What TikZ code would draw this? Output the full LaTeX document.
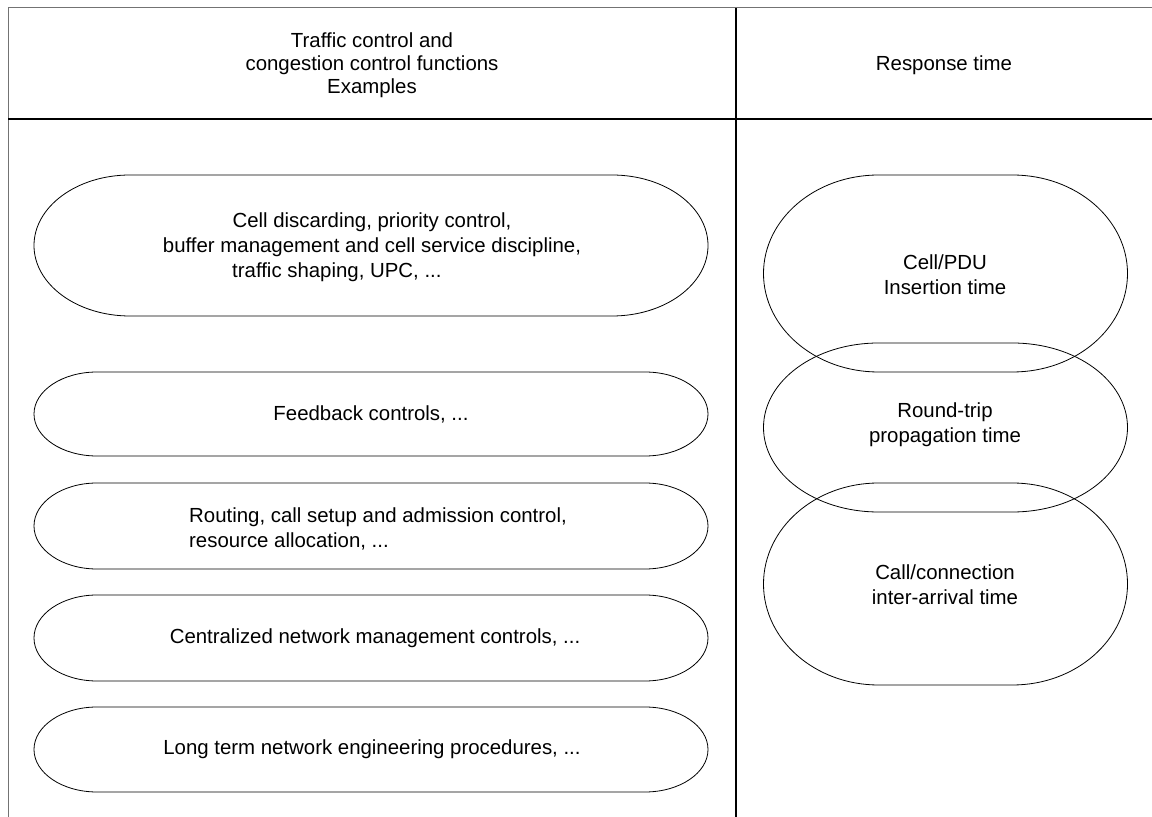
\documentclass[tikz,border=0pt]{standalone}
\usepackage{fontspec}
\setmainfont{Liberation Sans}
\usepackage{tikz}

\tikzset{
  txt/.style={align=center, inner sep=0pt, font=\fontsize{20.4}{25}\selectfont},
  hdrtxt/.style={align=center, inner sep=0pt, font=\fontsize{20.4}{23}\selectfont},
  capsule/.style={line width=0.8pt, draw=black}
}

\begin{document}
\begin{tikzpicture}[x=1pt,y=1pt]
        \useasboundingbox (0,0) rectangle (1152,817);

        % table lines
        \draw[black!55, line width=1pt] (8,0) -- (8,809) -- (1152,809);
        \draw[line width=1.3pt] (8,698) -- (1152,698);
        \draw[line width=2pt] (736,0) -- (736,809);

        \node[hdrtxt] (hleft) at (372,752) {Traffic control and\\congestion control functions\\Examples};
        \node[hdrtxt] (hright) at (944,752) {Response time};

        % left column
        \draw[capsule] (130,642) -- (612,642) arc[start angle=90, end angle=-90, x radius=96pt, y radius=70.5pt]
            -- (130,501) arc[start angle=270, end angle=90, x radius=96pt, y radius=70.5pt] -- cycle;
        \draw[capsule] (97,445) -- (645,445) arc[start angle=90, end angle=-90, x radius=63pt, y radius=42pt]
            -- (97,361) arc[start angle=270, end angle=90, x radius=63pt, y radius=42pt] -- cycle;
        \draw[capsule] (97,334) -- (645,334) arc[start angle=90, end angle=-90, x radius=63pt, y radius=43pt]
            -- (97,248) arc[start angle=270, end angle=90, x radius=63pt, y radius=43pt] -- cycle;
        \draw[capsule] (97,222) -- (645,222) arc[start angle=90, end angle=-90, x radius=63pt, y radius=43pt]
            -- (97,136) arc[start angle=270, end angle=90, x radius=63pt, y radius=43pt] -- cycle;
        \draw[capsule] (97,110) -- (645,110) arc[start angle=90, end angle=-90, x radius=63pt, y radius=42.5pt]
            -- (97,25) arc[start angle=270, end angle=90, x radius=63pt, y radius=42.5pt] -- cycle;

        \node[txt] (cellctl) at (372,582.5) {Cell discarding, priority control,\\buffer management and cell service discipline,};
        \node[txt, anchor=west] (shaping) at (232,545) {traffic shaping, UPC, ...};
        \node[txt] (feedback) at (371,403) {Feedback controls, ...};
        \node[txt, align=left, anchor=west] (routing) at (189,288) {Routing, call setup and admission control,\\resource allocation, ...};
        \node[txt] (central) at (375,179) {Centralized network management controls, ...};
        \node[txt] (longterm) at (372,67.5) {Long term network engineering procedures, ...};

        % right column
        \draw[capsule] (878.5,642) -- (1012.5,642) arc[start angle=90, end angle=-90, x radius=115pt, y radius=98.5pt]
            -- (878.5,445) arc[start angle=270, end angle=90, x radius=115pt, y radius=98.5pt] -- cycle;
        \draw[capsule] (878.5,474) -- (1012.5,474) arc[start angle=90, end angle=-90, x radius=115pt, y radius=84.5pt]
            -- (878.5,305) arc[start angle=270, end angle=90, x radius=115pt, y radius=84.5pt] -- cycle;
        \draw[capsule] (878.5,334) -- (1012.5,334) arc[start angle=90, end angle=-90, x radius=115pt, y radius=101pt]
            -- (878.5,132) arc[start angle=270, end angle=90, x radius=115pt, y radius=101pt] -- cycle;

        \node[txt] (insert) at (945,542) {Cell/PDU\\Insertion time};
        \node[txt] (roundtrip) at (945,392) {Round-trip\\propagation time};
        \node[txt] (interarr) at (945,232) {Call/connection\\inter-arrival time};
    \end{tikzpicture}
\end{document}
